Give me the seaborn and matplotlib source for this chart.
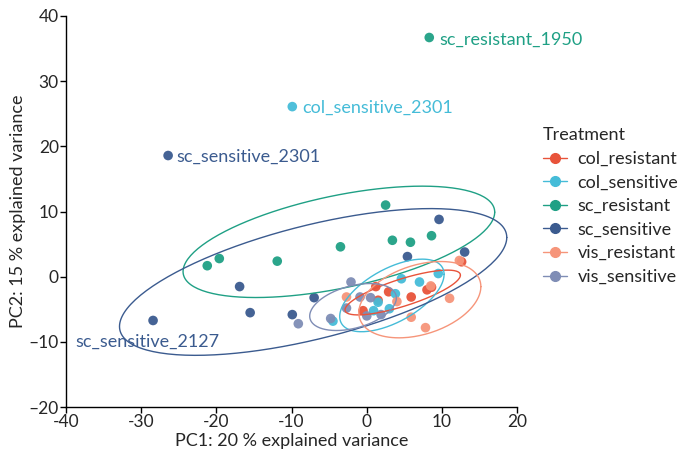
import numpy as np
import pandas as pd
import matplotlib
matplotlib.use("Agg")
import matplotlib.pyplot as plt
from matplotlib.lines import Line2D
import seaborn as sns

# PCA scores, one pair of lists per treatment
col_resistant_pc1 = [1.2, 2.9, 1.5, 5.9, 8.0, 8.6, 12.6, -0.5]
col_resistant_pc2 = [-1.5, -2.3, -3.6, -3.1, -2.0, -1.6, 2.3, -5.2]
col_sensitive_pc1 = [-9.9, 4.6, 7.0, 9.5, 3.8, 3.0, 1.5, 0.9, -4.5]
col_sensitive_pc2 = [26.1, -0.3, -0.8, 0.5, -2.6, -4.9, -3.9, -5.2, -6.8]
sc_resistant_pc1 = [8.3, 2.5, -3.5, 3.4, 5.8, 8.6, -11.9, -21.2, -19.6]
sc_resistant_pc2 = [36.7, 11.0, 4.6, 5.6, 5.3, 6.3, 2.4, 1.7, 2.8]
sc_sensitive_pc1 = [-26.4, -28.4, -16.9, -15.5, -9.9, -7.0, 5.4, 9.6, 13.0]
sc_sensitive_pc2 = [18.6, -6.7, -1.5, -5.5, -5.8, -3.2, 3.1, 8.8, 3.8]
vis_resistant_pc1 = [12.3, 8.5, 11.0, 4.0, 5.9, 7.8, -2.7]
vis_resistant_pc2 = [2.5, -1.4, -3.3, -3.8, -6.2, -7.8, -3.1]
vis_sensitive_pc1 = [-9.1, -4.8, -2.1, -2.7, -0.9, 0.5, 0.0, 1.9]
vis_sensitive_pc2 = [-7.2, -6.4, -0.8, -4.8, -3.1, -3.2, -6.0, -5.8]

treatments = ["col_resistant", "col_sensitive", "sc_resistant",
              "sc_sensitive", "vis_resistant", "vis_sensitive"]
colors = ["#e8533a", "#45bcd8", "#1fa085", "#3b5b8f", "#f6957a", "#7f8db5"]

# labelled samples: text, treatment, label position
label_texts = ["sc_resistant_1950", "col_sensitive_2301",
               "sc_sensitive_2301", "sc_sensitive_2127"]
label_groups = ["sc_resistant", "col_sensitive", "sc_sensitive", "sc_sensitive"]
label_x = [9.6, -8.6, -25.3, -29.1]
label_y = [36.3, 25.9, 18.4, -9.9]
label_ha = ["left", "left", "left", "center"]

xticks = [-40, -30, -20, -10, 0, 10, 20]
yticks = [-20, -10, 0, 10, 20, 30, 40]

ELLIPSE_LEVEL = 0.8


def cov_trob(x, nu=5, maxit=25, tol=0.01):
    # multivariate t robust covariance, as MASS::cov.trob
    n, p = x.shape
    wt = np.ones(n)
    loc = x.mean(axis=0)
    w = np.sqrt(wt)
    for _ in range(maxit):
        w0 = w
        X = x - loc
        _, d, vt = np.linalg.svd(np.sqrt(w / w.sum())[:, None] * X,
                                 full_matrices=False)
        wX = X @ vt.T @ np.diag(1 / d)
        Q = (wX ** 2).sum(axis=1)
        w = wt * (nu + p) / (nu + Q)
        loc = (w[:, None] * x).sum(axis=0) / w.sum()
        if np.all(np.abs(w - w0) < tol):
            break
    sw = np.sqrt(w)[:, None] * X
    return loc, sw.T @ sw / wt.sum()


def t_ellipse(x, level=0.95, segments=201):
    n = x.shape[0]
    center, cov = cov_trob(x)
    dfd = n - 1
    qf = dfd / 2 * ((1 - level) ** (-2 / dfd) - 1)  # F(2, dfd) quantile
    radius = np.sqrt(2 * qf)
    ang = np.linspace(0, 2 * np.pi, segments)
    circle = np.column_stack([np.cos(ang), np.sin(ang)])
    L = np.linalg.cholesky(cov)
    return center + radius * circle @ L.T


pc1 = {"col_resistant": col_resistant_pc1, "col_sensitive": col_sensitive_pc1,
       "sc_resistant": sc_resistant_pc1, "sc_sensitive": sc_sensitive_pc1,
       "vis_resistant": vis_resistant_pc1, "vis_sensitive": vis_sensitive_pc1}
pc2 = {"col_resistant": col_resistant_pc2, "col_sensitive": col_sensitive_pc2,
       "sc_resistant": sc_resistant_pc2, "sc_sensitive": sc_sensitive_pc2,
       "vis_resistant": vis_resistant_pc2, "vis_sensitive": vis_sensitive_pc2}

df = pd.concat([pd.DataFrame({"PC1": pc1[t], "PC2": pc2[t], "Treatment": t})
                for t in treatments], ignore_index=True)
palette = dict(zip(treatments, colors))

sns.set_style("ticks")
plt.rcParams["font.family"] = ["Lato", "DejaVu Sans"]

fig = plt.figure(figsize=(6.78, 4.57), dpi=100)
ax = fig.add_axes([0.097, 0.109, 0.666, 0.856])

sns.scatterplot(data=df, x="PC1", y="PC2", hue="Treatment", palette=palette,
                hue_order=treatments, s=48, linewidth=0, alpha=0.95,
                legend=False, ax=ax)

for t in treatments:
    pts = df.loc[df["Treatment"] == t, ["PC1", "PC2"]].to_numpy()
    ell = t_ellipse(pts, level=ELLIPSE_LEVEL)
    ax.plot(ell[:, 0], ell[:, 1], color=palette[t], lw=1.0)

for txt, g, lx, ly, ha in zip(label_texts, label_groups, label_x, label_y, label_ha):
    ax.text(lx, ly, txt, color=palette[g], fontsize=13, ha=ha, va="center")

ax.set_xlim(-40, 20)
ax.set_ylim(-20, 40)
ax.set_xticks(xticks)
ax.set_xticklabels([str(v) for v in xticks])
ax.set_yticks(yticks)
ax.set_yticklabels([str(v).replace("-", "\u2013") for v in yticks])
ax.tick_params(labelsize=12.5, length=4, width=1, color="black", pad=1)
for s in ["left", "bottom"]:
    ax.spines[s].set_color("black")
    ax.spines[s].set_linewidth(1)
sns.despine(ax=ax)
ax.set_xlabel("PC1: 20 % explained variance", fontsize=13, labelpad=2)
ax.set_ylabel("PC2: 15 % explained variance", fontsize=13, labelpad=2)

handles = [Line2D([0], [0], color=c, marker="o", markersize=7, lw=1.0)
           for c in colors]
fig.legend(handles, treatments, title="Treatment", loc="upper left",
           bbox_to_anchor=(0.785, 0.745), frameon=False, fontsize=13,
           title_fontsize=13, handlelength=1.35, handletextpad=0.55,
           labelspacing=0.42, alignment="left", borderaxespad=0.2)

fig.savefig("out.png", dpi=100)
